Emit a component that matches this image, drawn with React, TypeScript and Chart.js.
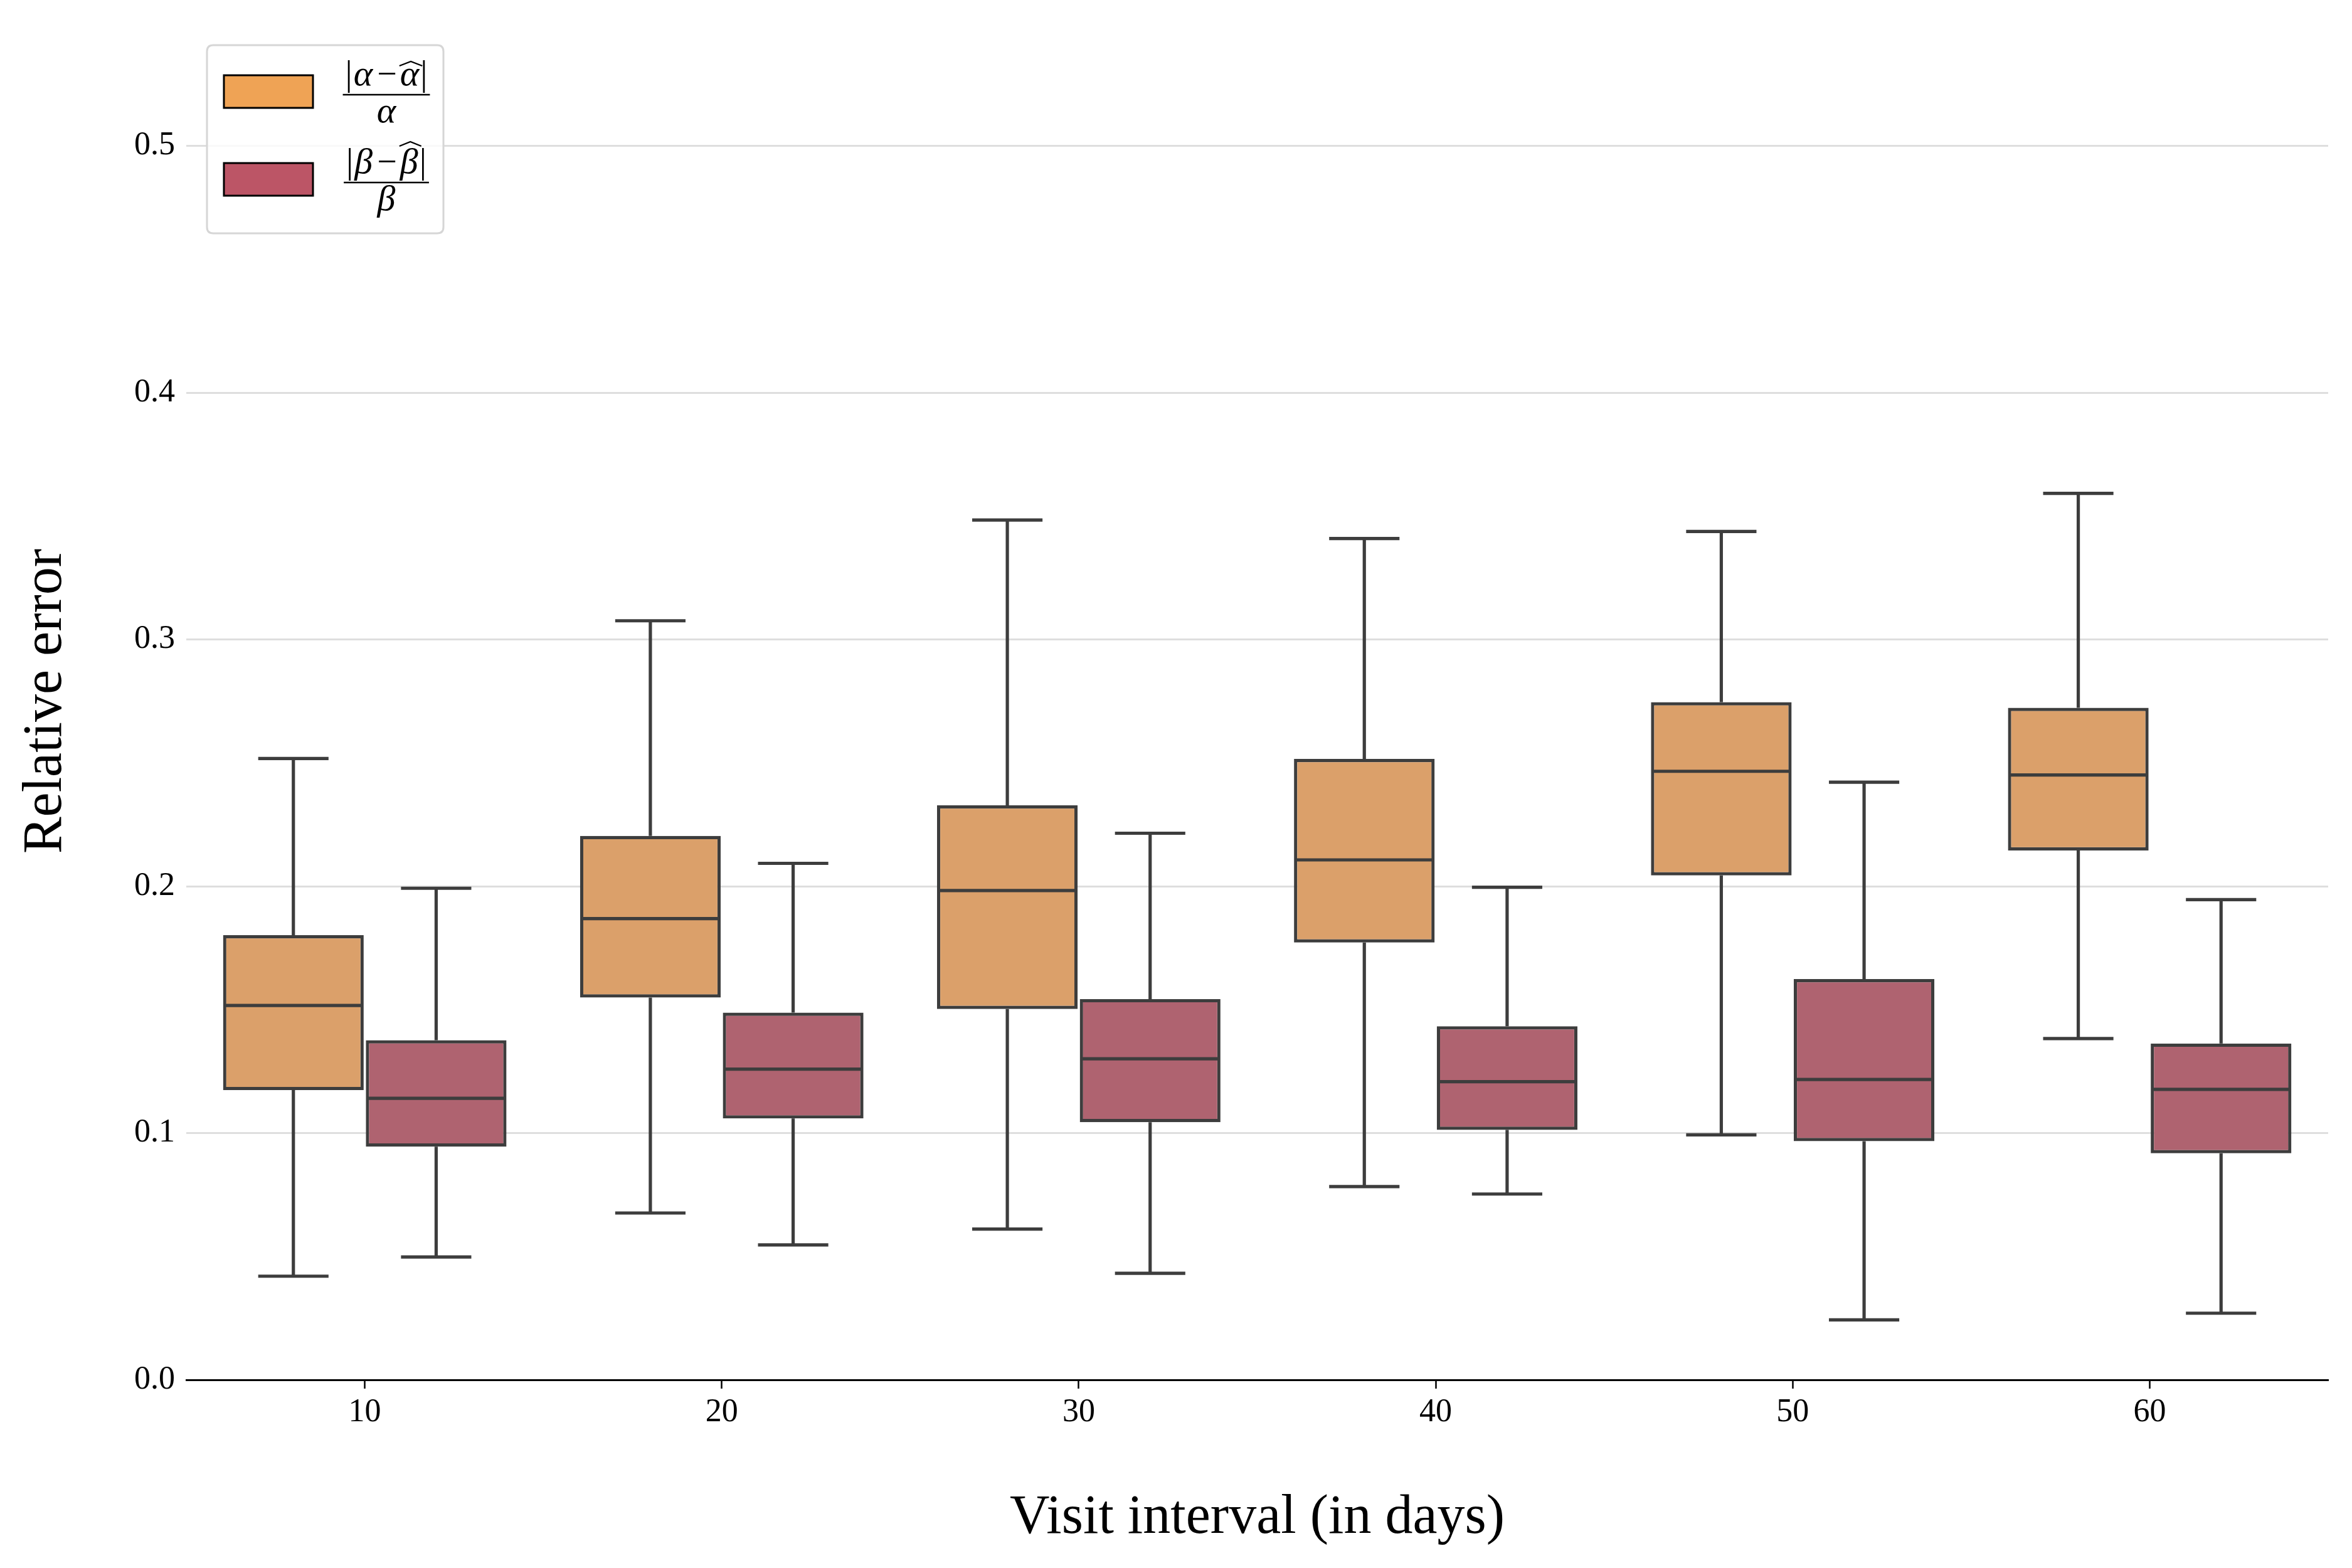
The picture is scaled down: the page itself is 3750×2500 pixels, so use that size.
import React, { useEffect, useRef } from 'react';
import { Chart, registerables } from 'chart.js';

Chart.register(...registerables);

// ---------- data ----------
const categories = ['10', '20', '30', '40', '50', '60'];

const alphaMin = [0.042, 0.0676, 0.0611, 0.0783, 0.0993, 0.1383];
const alphaQ1 = [0.1174, 0.1549, 0.1503, 0.1772, 0.2044, 0.2145];
const alphaMed = [0.1517, 0.1869, 0.1983, 0.2107, 0.2466, 0.2451];
const alphaQ3 = [0.1802, 0.2204, 0.2328, 0.2516, 0.2746, 0.2723];
const alphaMax = [0.2518, 0.3076, 0.3484, 0.3409, 0.3438, 0.3592];

const betaMin = [0.0498, 0.0547, 0.0432, 0.0753, 0.0243, 0.027];
const betaQ1 = [0.0945, 0.1059, 0.1044, 0.1013, 0.0967, 0.0918];
const betaMed = [0.1141, 0.1259, 0.1301, 0.1208, 0.1217, 0.1177];
const betaQ3 = [0.1376, 0.1488, 0.1543, 0.1433, 0.1624, 0.1363];
const betaMax = [0.1992, 0.2093, 0.2215, 0.1996, 0.2422, 0.1946];

const yTicks = [0, 0.1, 0.2, 0.3, 0.4, 0.5];

// legend: |s − ŝ| / s
const legendSymbols = ['\u03B1', '\u03B2'];

const xTitle = 'Visit interval (in days)';
const yTitle = 'Relative error';

// ---------- styles ----------
const FONT = '"Liberation Serif", "DejaVu Serif", serif';
const LINE = '#3d3d3d';
const LW = 5.2;
const BOX_FILL = ['#dba06a', '#af6370'];
const LEGEND_FILL = ['#efa355', '#bc5566'];

export default function App() {
  const ref = useRef<HTMLCanvasElement>(null);

  useEffect(() => {
    const canvas = ref.current;
    if (!canvas) return;

    const stats = [
      { min: alphaMin, q1: alphaQ1, med: alphaMed, q3: alphaQ3, max: alphaMax },
      { min: betaMin, q1: betaQ1, med: betaMed, q3: betaQ3, max: betaMax },
    ];

    const whiskerPlugin = {
      id: 'whiskers',
      afterDatasetsDraw(chart: any) {
        const ctx = chart.ctx as CanvasRenderingContext2D;
        const ys = chart.scales.y;
        ctx.save();
        ctx.strokeStyle = LINE;
        ctx.lineWidth = LW;
        ctx.lineCap = 'butt';
        const seg = (x1: number, y1: number, x2: number, y2: number) => {
          ctx.beginPath();
          ctx.moveTo(x1, y1);
          ctx.lineTo(x2, y2);
          ctx.stroke();
        };
        stats.forEach((s, di) => {
          const meta = chart.getDatasetMeta(di);
          meta.data.forEach((bar: any, i: number) => {
            const x = bar.x;
            const w = bar.width;
            const pMin = ys.getPixelForValue(s.min[i]);
            const pQ1 = ys.getPixelForValue(s.q1[i]);
            const pMed = ys.getPixelForValue(s.med[i]);
            const pQ3 = ys.getPixelForValue(s.q3[i]);
            const pMax = ys.getPixelForValue(s.max[i]);
            seg(x, pQ3, x, pMax);
            seg(x, pQ1, x, pMin);
            seg(x - w / 4, pMax, x + w / 4, pMax);
            seg(x - w / 4, pMin, x + w / 4, pMin);
            seg(x - w / 2 + 2, pMed, x + w / 2 - 2, pMed);
          });
        });
        ctx.restore();
      },
    };

    const legendPlugin = {
      id: 'fracLegend',
      afterDraw(chart: any) {
        const ctx = chart.ctx as CanvasRenderingContext2D;
        ctx.save();
        // frame
        const fx = 330, fy = 72, fw = 377, fh = 300, r = 10;
        ctx.beginPath();
        ctx.moveTo(fx + r, fy);
        ctx.lineTo(fx + fw - r, fy);
        ctx.quadraticCurveTo(fx + fw, fy, fx + fw, fy + r);
        ctx.lineTo(fx + fw, fy + fh - r);
        ctx.quadraticCurveTo(fx + fw, fy + fh, fx + fw - r, fy + fh);
        ctx.lineTo(fx + r, fy + fh);
        ctx.quadraticCurveTo(fx, fy + fh, fx, fy + fh - r);
        ctx.lineTo(fx, fy + r);
        ctx.quadraticCurveTo(fx, fy, fx + r, fy);
        ctx.closePath();
        ctx.fillStyle = 'rgba(255,255,255,0.8)';
        ctx.fill();
        ctx.strokeStyle = '#d6d6d6';
        ctx.lineWidth = 3;
        ctx.stroke();

        const fUp = `56px ${FONT}`;
        const fIt = `italic 58px ${FONT}`;

        legendSymbols.forEach((sym, k) => {
          const top = 120 + k * 140;
          ctx.fillStyle = LEGEND_FILL[k];
          ctx.fillRect(357, top, 142, 52);
          ctx.strokeStyle = '#000';
          ctx.lineWidth = 3;
          ctx.strokeRect(357, top, 142, 52);

          const cx = 616;
          const base = top + 16;
          const parts = [
            { t: '|', f: fUp, l: 0, r: 2 },
            { t: sym, f: fIt, l: 0, r: 2 },
            { t: '\u2212', f: fUp, l: 5, r: 5 },
            { t: sym, f: fIt, l: 0, r: 2, hat: true },
            { t: '|', f: fUp, l: 0, r: 0 },
          ];
          let total = 0;
          const widths = parts.map((p) => {
            ctx.font = p.f;
            const w = ctx.measureText(p.t).width;
            total += p.l + w + p.r;
            return w;
          });
          ctx.fillStyle = '#000';
          ctx.textBaseline = 'alphabetic';
          ctx.textAlign = 'left';
          let x = cx - total / 2;
          parts.forEach((p, j) => {
            x += p.l;
            ctx.font = p.f;
            ctx.fillText(p.t, x, base);
            if (p.hat) {
              const hw = widths[j] + 6;
              const hx = x - 1;
              const peak = k === 0 ? base - 38 : base - 50;
              ctx.lineWidth = 2.4;
              ctx.beginPath();
              ctx.moveTo(hx, peak + 7);
              ctx.lineTo(hx + hw / 2, peak);
              ctx.lineTo(hx + hw, peak + 7);
              ctx.stroke();
            }
            x += widths[j] + p.r;
          });

          const bw = total + 8;
          ctx.lineWidth = 2.6;
          ctx.beginPath();
          ctx.moveTo(cx - bw / 2, top + 31);
          ctx.lineTo(cx + bw / 2, top + 31);
          ctx.stroke();

          ctx.font = fIt;
          ctx.textAlign = 'center';
          ctx.fillText(sym, cx, top + 75);
        });
        ctx.restore();
      },
    };

    const makeData = (q1: number[], q3: number[]) => q1.map((v, i) => [v, q3[i]]);

    const chart = new Chart(canvas, {
      type: 'bar',
      data: {
        labels: categories,
        datasets: [
          {
            label: 'alpha',
            data: makeData(alphaQ1, alphaQ3) as any,
            backgroundColor: BOX_FILL[0],
            borderColor: LINE,
            borderWidth: LW,
            borderSkipped: false,
            categoryPercentage: 0.8,
            barPercentage: 0.985,
          },
          {
            label: 'beta',
            data: makeData(betaQ1, betaQ3) as any,
            backgroundColor: BOX_FILL[1],
            borderColor: LINE,
            borderWidth: LW,
            borderSkipped: false,
            categoryPercentage: 0.8,
            barPercentage: 0.985,
          },
        ],
      },
      options: {
        responsive: false,
        animation: false,
        devicePixelRatio: 1,
        layout: { padding: { left: 0, right: 38, top: 36, bottom: 0 } },
        plugins: {
          legend: { display: false },
          tooltip: { enabled: false },
        },
        scales: {
          x: {
            grid: {
              display: true,
              offset: false,
              drawOnChartArea: false,
              drawTicks: true,
              tickLength: 14,
              tickWidth: 2.5,
              tickColor: '#000',
            },
            border: { display: true, color: '#000', width: 3 },
            ticks: { font: { family: FONT, size: 52 }, color: '#000', padding: 7 },
            title: {
              display: true,
              text: xTitle,
              color: '#000',
              font: { family: FONT, size: 88 },
              padding: { top: 0, bottom: 26 },
            },
            afterFit: (s: any) => {
              s.height = 300;
              s.paddingLeft = 0;
              s.paddingRight = 0;
            },
          },
          y: {
            min: 0,
            max: 0.55,
            afterBuildTicks: (s: any) => {
              s.ticks = yTicks.map((v) => ({ value: v }));
            },
            grid: { color: '#dedede', lineWidth: 3, drawTicks: false },
            border: { display: false },
            ticks: {
              font: { family: FONT, size: 52 },
              color: '#000',
              padding: 18,
              callback: (v: any) => Number(v).toFixed(1),
            },
            title: {
              display: true,
              text: yTitle,
              color: '#000',
              font: { family: FONT, size: 88 },
              padding: { top: 21, bottom: 0 },
            },
            afterFit: (s: any) => {
              s.width = 297;
              s.paddingTop = 0;
              s.paddingBottom = 0;
            },
          },
        },
      },
      plugins: [whiskerPlugin, legendPlugin],
    });

    return () => chart.destroy();
  }, []);

  return (
    <div style={{ position: 'absolute', left: 0, top: 0, width: 3750, height: 2500, background: '#fff' }}>
      <canvas ref={ref} width={3750} height={2500} style={{ width: 3750, height: 2500, display: 'block' }} />
    </div>
  );
}
